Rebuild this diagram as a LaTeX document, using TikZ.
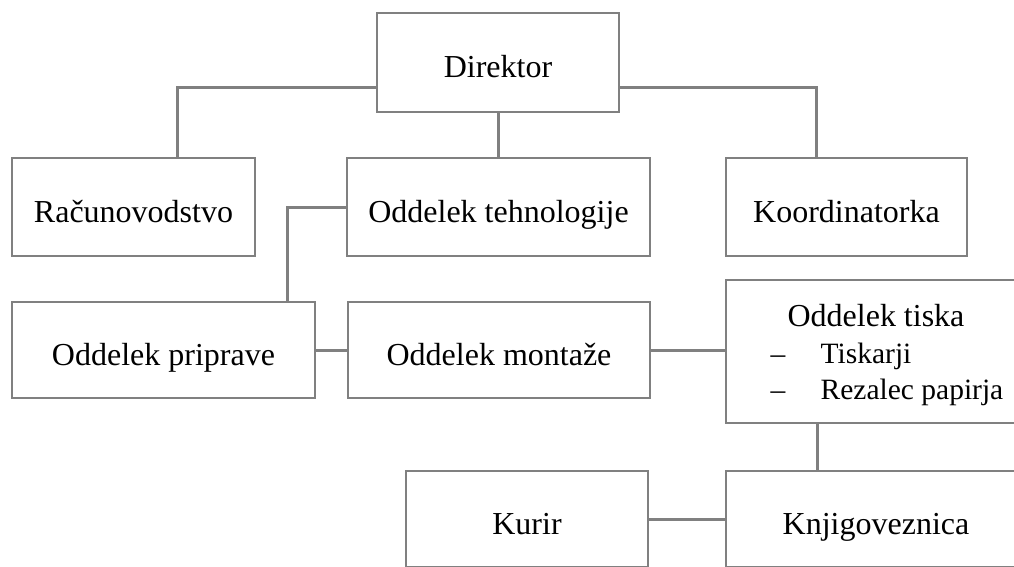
\documentclass[tikz,border=0pt]{standalone}
\usepackage{fontspec}
\setmainfont{Liberation Serif}
\definecolor{linegray}{RGB}{128,128,128}
\begin{document}
\begin{tikzpicture}[x=1pt, y=-1pt,
    box/.style  = {draw=linegray, line width=1.7pt, inner sep=0pt, outer sep=0pt,
                   minimum height=98pt, align=center, font=\fontsize{32}{37}\selectfont},
    unit/.style = {box, text height=36pt, text depth=6pt},
    link/.style = {draw=linegray, line width=3pt}]
      \clip (0,0) rectangle (1014,566);
      \node[unit, minimum width=242pt, minimum height=99pt] (direktor) at (498,62.5) {Direktor};
      \node[unit, minimum width=243pt] (racun)    at (133.5,207) {Računovodstvo};
      \node[unit, minimum width=303pt] (tehno)    at (498.5,207) {Oddelek tehnologije};
      \node[unit, minimum width=241pt] (koord)    at (846.5,207) {Koordinatorka};
      \node[unit, minimum width=303pt, minimum height=96pt] (priprava) at (163.5,350) {Oddelek priprave};
      \node[unit, minimum width=302pt, minimum height=96pt] (montaza)  at (499,350) {Oddelek montaže};
      \node[box, minimum width=300pt, minimum height=143pt] (tisk) at (876,351.5)
        {\rule{0pt}{33pt}Oddelek tiska\\ \hspace*{22pt}{\fontsize{29.5}{36}\selectfont
         \begin{tabular}[t]{@{}p{50pt}@{}l@{}}–&Tiskarji\\–&Rezalec papirja\end{tabular}}};
      \node[unit, minimum width=300pt, minimum height=96pt] (knjig) at (876,519) {Knjigoveznica};
      \node[unit, minimum width=242pt, minimum height=96pt] (kurir) at (527,519) {Kurir};
      % povezave
      \draw[link] ([yshift=-25pt]direktor.west) -| ([xshift=44pt]racun.north);
      \draw[link] (direktor.south) -- (direktor.south |- tehno.north);
      \draw[link] ([yshift=-25pt]direktor.east) -| ([xshift=-30pt]koord.north);
      \draw[link] (tehno.west) -| ([xshift=124pt]priprava.north);
      \draw[link] (priprava.east) -- (montaza.west);
      \draw[link] (montaza.east) -- (montaza.east -| tisk.west);
      \draw[link] ([xshift=-59pt]tisk.south) -- ([xshift=-59pt]knjig.north);
      \draw[link] (kurir.east) -- (knjig.west);
\end{tikzpicture}
\end{document}
